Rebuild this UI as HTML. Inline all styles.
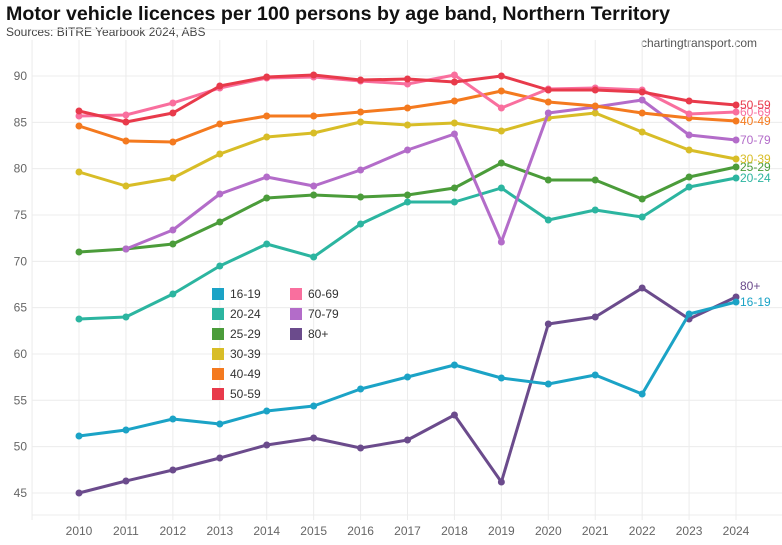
<!DOCTYPE html>
<html><head><meta charset="utf-8"><style>
body{margin:0;background:#fff;width:782px;height:540px;overflow:hidden;font-family:"Liberation Sans",sans-serif}
</style></head><body>
<svg width="782" height="540" xmlns="http://www.w3.org/2000/svg" font-family="Liberation Sans, sans-serif">
<text x="6" y="20" font-size="19" font-weight="bold" fill="#111" textLength="664" lengthAdjust="spacingAndGlyphs">Motor vehicle licences per 100 persons by age band, Northern Territory</text>
<text x="6" y="36" font-size="12" fill="#444">Sources: BITRE Yearbook 2024, ABS</text>
<text x="757" y="47" font-size="12" fill="#555" text-anchor="end">chartingtransport.com</text>
<g id="grid" stroke="#ececec" stroke-width="1"></g>
<g id="lines"></g>
<g font-size="12" fill="#666" id="lbl"></g>
<g font-size="12" fill="#333">
<rect x="212" y="288" width="12" height="12" fill="#1ba3c6"/><text x="230" y="298">16-19</text>
<rect x="212" y="308" width="12" height="12" fill="#2cb5a0"/><text x="230" y="318">20-24</text>
<rect x="212" y="328" width="12" height="12" fill="#4b9c3a"/><text x="230" y="338">25-29</text>
<rect x="212" y="348" width="12" height="12" fill="#d8bd27"/><text x="230" y="358">30-39</text>
<rect x="212" y="368" width="12" height="12" fill="#f47a1f"/><text x="230" y="378">40-49</text>
<rect x="212" y="388" width="12" height="12" fill="#e83a4b"/><text x="230" y="398">50-59</text>
<rect x="290" y="288" width="12" height="12" fill="#f96f9e"/><text x="308" y="298">60-69</text>
<rect x="290" y="308" width="12" height="12" fill="#b36cc9"/><text x="308" y="318">70-79</text>
<rect x="290" y="328" width="12" height="12" fill="#6b4b8c"/><text x="308" y="338">80+</text>
</g>
</svg>
<script>
const ns="http://www.w3.org/2000/svg";
const g=document.getElementById('grid'),L=document.getElementById('lines'),lb=document.getElementById('lbl');
function el(p,t,a){const e=document.createElementNS(ns,t);for(const k in a)e.setAttribute(k,a[k]);p.appendChild(e);return e;}
const X=i=>79+46.93*i;
for(let i=-1;i<=15;i++){el(g,'line',{x1:X(i),x2:X(i),y1:40,y2:520});}
for(let k=-1;k<=9;k++){const y=76+46.33*k;el(g,'line',{x1:32,x2:782,y1:y,y2:y});
 if(k>=0){const t=el(lb,'text',{x:27,y:y+4,'text-anchor':'end'});t.textContent=90-5*k;}}
el(g,'line',{x1:32,x2:782,y1:515,y2:515});
for(let i=0;i<15;i++){const t=el(lb,'text',{x:X(i),y:535,'text-anchor':'middle'});t.textContent=2010+i;}
const S=[
["#6b4b8c",0,[493,481,470,458,445,438,448,440,415,482,324,317,288,319,297],"80+",290],
["#1ba3c6",0,[436,430,419,424,411,406,389,377,365,378,384,375,394,314,302],"16-19",306],
["#2cb5a0",0,[319,317,294,266,244,257,224,202,202,188,220,210,217,187,178],"20-24",182],
["#4b9c3a",0,[252,249,244,222,198,195,197,195,188,163,180,180,199,177,167],"25-29",171],
["#d8bd27",0,[172,186,178,154,137,133,122,125,123,131,118,113,132,150,159],"30-39",163],
["#b36cc9",1,[249,230,194,177,186,170,150,134,242,113,107,100,135,140],"70-79",144],
["#f47a1f",0,[126,141,142,124,116,116,112,108,101,91,102,106,113,118,121],"40-49",125],
["#f96f9e",0,[116,115,103,88,78,77,81,84,75,108,89,88,90,114,112],"60-69",116],
["#e83a4b",0,[111,122,113,86,77,75,80,79,82,76,90,90,92,101,105],"50-59",109]];
for(const [c,o,d,n,ly] of S){
 const pts=d.map((y,i)=>X(i+o)+","+y).join(" ");
 el(L,'polyline',{points:pts,fill:"none",stroke:c,'stroke-width':3,'stroke-linejoin':'round'});
 d.forEach((y,i)=>el(L,'circle',{cx:X(i+o),cy:y,r:3.5,fill:c}));
 const t=el(L,'text',{x:740,y:ly,fill:c,'font-size':12});t.textContent=n;
}
</script>
</body></html>
